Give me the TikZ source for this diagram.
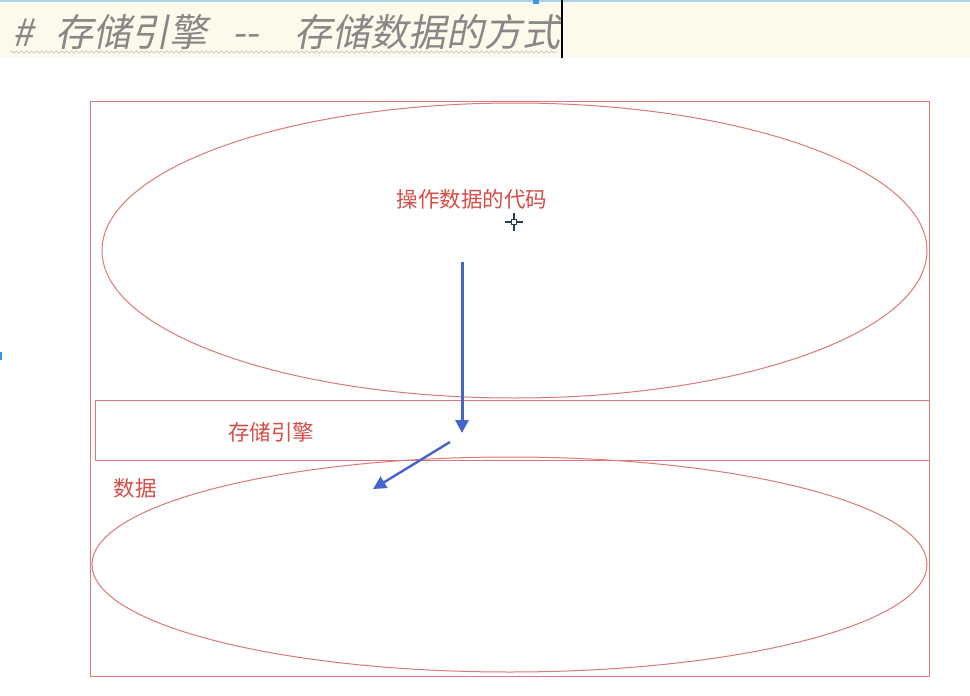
\documentclass[tikz,border=0pt]{standalone}
\usepackage{fontspec}
\setmainfont{Noto Sans CJK SC}
\newfontfamily\titlefont[FakeSlant=0.2]{Noto Sans CJK SC}
\usetikzlibrary{shapes.geometric,arrows.meta,decorations.pathmorphing}
\definecolor{boxred}{RGB}{220,120,120}
\definecolor{txtred}{RGB}{214,78,72}
\definecolor{arrblue}{RGB}{70,100,205}
\definecolor{cream}{RGB}{253,250,236}
\definecolor{titlegray}{RGB}{135,135,135}
\tikzset{
  box/.style={draw=boxred, line width=1pt},
  oval/.style={ellipse, draw=boxred, line width=1pt, inner sep=0pt},
  lbl/.style={text=txtred, font=\fontsize{21.5}{24}\selectfont, inner sep=0pt},
  ttl/.style={anchor=base west, text=titlegray, inner sep=0pt, font=\titlefont\fontsize{38}{42}\selectfont},
  flow/.style={draw=arrblue, line width=3pt, -{Triangle[length=13pt,width=13pt]}},
}
\begin{document}
\begin{tikzpicture}[x=1pt,y=-1pt]
\useasboundingbox (0,0) rectangle (970,696);
\fill[white] (0,0) rectangle (970,696);
% title band
\fill[cream] (0,2) rectangle (970,57);
\draw[color={rgb,255:red,170;green,210;blue,235}, line width=1.2pt] (0,1) -- (970,1);
\fill[color={rgb,255:red,60;green,150;blue,230}] (533,0) rectangle (539,4);
\node[ttl] (t1) at (12,46) {\#};
\node[ttl] (t2) at (55,46) {存储引擎};
\node[ttl] (t3) at (232,46) {-{}-};
\node[ttl] (t4) at (294,46) {存储数据的方式};
\draw[color={rgb,255:red,205;green,205;blue,200}, line width=0.8pt, decorate, decoration={snake, amplitude=1.2pt, segment length=5pt}] (10,52) -- (558,52);
\draw[black, line width=1.6pt] (562,0) -- (562,58);
\fill[color={rgb,255:red,60;green,150;blue,230}] (0,352) rectangle (2,360);
% frames
\draw[box] (90,101) rectangle (929,676);
\draw[box] (95,400) rectangle (929,460);
\node[oval, minimum width=825pt, minimum height=295pt] (code) at (514.5,250.5) {};
\node[oval, minimum width=835pt, minimum height=215pt] (data) at (509.5,564.5) {};
% labels
\node[lbl] (codelbl) at (472,199) {操作数据的代码};
\node[lbl] (englbl) at (271,432) {存储引擎};
\node[lbl] (datalbl) at (135,488) {数据};
% arrows
\coordinate (a1s) at (462,262);
\coordinate (a1e) at (462,433);
\coordinate (a2s) at (450,442);
\coordinate (a2e) at (373,489);
\draw[flow] (a1s) -- (a1e);
\draw[flow, line width=2.4pt] (a2s) -- (a2e);
% cursor
\begin{scope}[color={rgb,255:red,40;green,60;blue,85}, line width=1.2pt]
\draw (505,222) -- (511,222) (517,222) -- (523,222) (514,213) -- (514,219) (514,225) -- (514,231);
\draw (511.5,219.5) rectangle (516.5,224.5);
\end{scope}
\end{tikzpicture}
\end{document}
